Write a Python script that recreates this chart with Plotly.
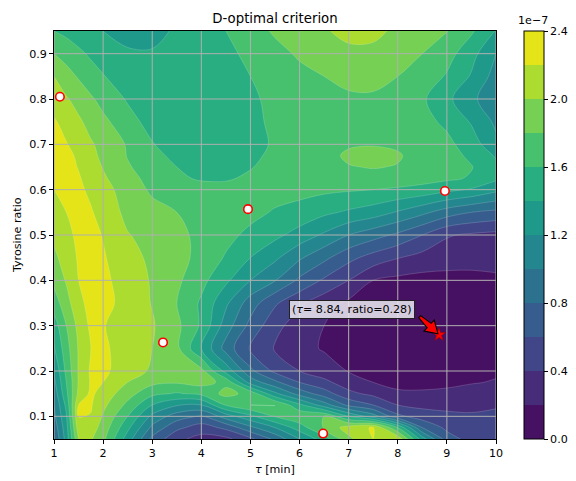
import numpy as np
import plotly.graph_objects as go

# Design grid: residence time tau [min] and tyrosine ratio
TAU = [1.0, 1.25, 1.5, 1.75, 2.0, 2.5, 3.0, 3.5, 4.0, 4.5, 5.0, 5.5, 6.0, 6.5, 7.0, 7.5, 8.0, 8.5, 9.0, 9.5, 10.0]
RATIO = [0.05, 0.075, 0.1, 0.125, 0.15, 0.175, 0.2, 0.25, 0.3, 0.35, 0.4, 0.45, 0.5,
         0.55, 0.6, 0.625, 0.65, 0.675, 0.7, 0.75, 0.8, 0.85, 0.9, 0.95]

# D-optimal criterion values (units of 1e-7), one row per ratio value
D_CRIT = [
    [0.80, 1.28, 2.00, 2.02, 1.85, 1.30, 0.75, 0.45, 0.33, 0.35, 0.55, 0.85, 1.20, 1.50, 1.95, 2.20, 2.15, 1.30, 0.70, 0.52, 0.48],
    [0.88, 1.32, 2.12, 2.10, 1.92, 1.45, 0.95, 0.65, 0.50, 0.65, 0.95, 1.20, 1.50, 1.82, 2.10, 2.22, 1.60, 0.80, 0.55, 0.48, 0.46],
    [0.95, 1.38, 2.21, 2.19, 1.98, 1.60, 1.15, 0.90, 0.78, 1.10, 1.35, 1.62, 1.76, 1.80, 1.40, 1.10, 0.65, 0.50, 0.45, 0.42, 0.44],
    [1.00, 1.45, 2.20, 2.22, 2.05, 1.75, 1.40, 1.22, 1.20, 1.62, 1.80, 1.81, 1.45, 1.10, 0.75, 0.60, 0.40, 0.35, 0.34, 0.36, 0.38],
    [1.08, 1.55, 2.05, 2.24, 2.12, 1.88, 1.65, 1.58, 1.65, 1.86, 1.74, 1.25, 0.92, 0.70, 0.45, 0.35, 0.23, 0.22, 0.23, 0.26, 0.30],
    [1.15, 1.60, 2.02, 2.22, 2.20, 2.00, 1.85, 1.82, 1.87, 1.75, 1.12, 0.85, 0.60, 0.45, 0.30, 0.20, 0.15, 0.16, 0.17, 0.19, 0.21],
    [1.22, 1.65, 2.02, 2.23, 2.24, 2.10, 1.97, 1.89, 1.86, 1.33, 0.85, 0.55, 0.40, 0.30, 0.19, 0.15, 0.13, 0.12, 0.13, 0.15, 0.18],
    [1.38, 1.72, 2.02, 2.20, 2.23, 2.12, 2.00, 1.85, 1.40, 0.92, 0.57, 0.38, 0.27, 0.18, 0.11, 0.07, 0.05, 0.05, 0.07, 0.09, 0.10],
    [1.50, 1.80, 2.06, 2.24, 2.21, 2.12, 2.02, 1.85, 1.57, 1.10, 0.74, 0.46, 0.30, 0.20, 0.12, 0.08, 0.05, 0.04, 0.05, 0.07, 0.08],
    [1.70, 1.92, 2.15, 2.26, 2.27, 2.12, 1.99, 1.80, 1.57, 1.24, 0.90, 0.63, 0.44, 0.28, 0.16, 0.10, 0.07, 0.06, 0.07, 0.09, 0.11],
    [1.85, 2.02, 2.20, 2.27, 2.24, 2.12, 1.98, 1.84, 1.66, 1.44, 1.20, 1.01, 0.76, 0.57, 0.40, 0.20, 0.15, 0.13, 0.14, 0.16, 0.18],
    [1.95, 2.10, 2.22, 2.27, 2.22, 2.07, 1.96, 1.87, 1.74, 1.58, 1.40, 1.24, 1.03, 0.85, 0.66, 0.52, 0.41, 0.33, 0.28, 0.25, 0.24],
    [2.05, 2.15, 2.24, 2.26, 2.19, 2.01, 1.94, 1.86, 1.74, 1.66, 1.55, 1.45, 1.32, 1.17, 1.00, 0.88, 0.76, 0.60, 0.42, 0.37, 0.34],
    [2.15, 2.20, 2.27, 2.22, 2.12, 1.95, 1.86, 1.80, 1.74, 1.70, 1.66, 1.58, 1.53, 1.44, 1.37, 1.30, 1.18, 1.05, 0.90, 0.80, 0.75],
    [2.20, 2.27, 2.24, 2.16, 2.08, 1.90, 1.77, 1.71, 1.67, 1.66, 1.67, 1.68, 1.66, 1.64, 1.62, 1.60, 1.57, 1.53, 1.45, 1.38, 1.25],
    [2.28, 2.26, 2.22, 2.12, 2.03, 1.86, 1.74, 1.63, 1.58, 1.58, 1.63, 1.68, 1.71, 1.72, 1.74, 1.74, 1.72, 1.68, 1.64, 1.58, 1.44],
    [2.31, 2.27, 2.19, 2.09, 1.99, 1.82, 1.70, 1.60, 1.53, 1.52, 1.59, 1.66, 1.72, 1.76, 1.79, 1.81, 1.79, 1.73, 1.68, 1.61, 1.45],
    [2.31, 2.25, 2.17, 2.05, 1.96, 1.79, 1.67, 1.54, 1.48, 1.48, 1.56, 1.64, 1.70, 1.74, 1.83, 1.85, 1.82, 1.72, 1.68, 1.56, 1.38],
    [2.30, 2.21, 2.13, 2.02, 1.95, 1.78, 1.61, 1.52, 1.48, 1.48, 1.52, 1.63, 1.70, 1.75, 1.78, 1.79, 1.77, 1.71, 1.65, 1.50, 1.25],
    [2.22, 2.14, 2.03, 1.94, 1.85, 1.67, 1.53, 1.48, 1.46, 1.47, 1.55, 1.64, 1.70, 1.73, 1.75, 1.75, 1.72, 1.66, 1.56, 1.38, 1.16],
    [2.12, 2.02, 1.93, 1.83, 1.73, 1.58, 1.50, 1.46, 1.45, 1.48, 1.56, 1.66, 1.72, 1.76, 1.77, 1.77, 1.76, 1.63, 1.45, 1.24, 1.08],
    [2.00, 1.88, 1.78, 1.68, 1.61, 1.52, 1.48, 1.48, 1.49, 1.52, 1.60, 1.67, 1.74, 1.80, 1.85, 1.86, 1.80, 1.72, 1.58, 1.38, 1.12],
    [1.80, 1.72, 1.64, 1.57, 1.50, 1.43, 1.42, 1.47, 1.52, 1.56, 1.64, 1.73, 1.83, 1.90, 1.95, 1.95, 1.90, 1.80, 1.68, 1.47, 1.20],
    [1.60, 1.55, 1.50, 1.46, 1.40, 1.32, 1.33, 1.43, 1.50, 1.60, 1.70, 1.83, 1.92, 1.98, 2.06, 2.05, 1.96, 1.88, 1.81, 1.63, 1.39],
]

# Experiments already in the design
EXP_TAU = [1.12, 3.22, 4.95, 6.48, 8.96]
EXP_RATIO = [0.805, 0.263, 0.557, 0.062, 0.597]

# Proposed optimum
OPT_TAU = 8.84
OPT_RATIO = 0.28

# Axis ticks
X_TICKS = [1, 2, 3, 4, 5, 6, 7, 8, 9, 10]
Y_TICKS = [0.1, 0.2, 0.3, 0.4, 0.5, 0.6, 0.7, 0.8, 0.9]
CBAR_TICKS = [0.0, 0.4, 0.8, 1.2, 1.6, 2.0, 2.4]

# Contour levels: 0 .. 2.4 in steps of 0.2 (x 1e-7)
LEVEL_STEP = 0.2
N_LEVELS = 12
BAND_COLORS = ['#471163', '#472c7a', '#404688', '#365d8d', '#2c728e', '#24868e',
               '#1f9a8a', '#28ae80', '#48c16e', '#75d054', '#acdc30', '#e4e419']

FONT = "DejaVu Sans"
FS = 11.1        # 10 pt text
FS_TITLE = 13.3  # 12 pt title

X_RANGE = [1, 10]
Y_RANGE = [0.05, 0.95]
PLOT_W, PLOT_H = 442, 408   # plot area in px

# work in level units so each band spans exactly one unit
z_lvl = np.array(D_CRIT) / LEVEL_STEP

# stepped colorscale: one flat colour per band
scale = []
for k, c in enumerate(BAND_COLORS):
    scale.append([k / N_LEVELS, c])
    scale.append([(k + 1) / N_LEVELS, c])

fig = go.Figure()

fig.add_trace(go.Contour(
    x=TAU, y=RATIO, z=z_lvl,
    zmin=0, zmax=N_LEVELS,
    autocontour=False,
    contours=dict(start=0, end=N_LEVELS, size=1, coloring="fill", showlines=False),
    colorscale=scale,
    line=dict(width=0, smoothing=1.0),
    hoverinfo="skip",
    colorbar=dict(
        x=(524 - 54) / PLOT_W, xanchor="left", xpad=0,
        y=0.5, yanchor="middle", len=1.0, lenmode="fraction", ypad=0,
        thickness=20,
        outlinewidth=1, outlinecolor="black",
        ticks="outside", ticklen=3.9, tickwidth=0.9, tickcolor="black",
        tickvals=[t / LEVEL_STEP for t in CBAR_TICKS],
        ticktext=[f"{t:.1f}" for t in CBAR_TICKS],
        tickfont=dict(family=FONT, size=FS, color="black"),
    ),
))

# faint seams between filled bands
fig.add_trace(go.Contour(
    x=TAU, y=RATIO, z=z_lvl,
    autocontour=False,
    contours=dict(start=0, end=N_LEVELS, size=1, coloring="none"),
    line=dict(color="rgba(255,255,255,0.28)", width=0.6, smoothing=1.0),
    showscale=False, hoverinfo="skip",
))

# grid drawn over the filled contours
gx, gy = [], []
for t in X_TICKS:
    gx += [t, t, None]
    gy += [Y_RANGE[0], Y_RANGE[1], None]
for r in Y_TICKS:
    gx += [X_RANGE[0], X_RANGE[1], None]
    gy += [r, r, None]
fig.add_trace(go.Scatter(x=gx, y=gy, mode="lines",
                         line=dict(color="#b0b0b0", width=1),
                         hoverinfo="skip", showlegend=False))

fig.add_trace(go.Scatter(
    x=EXP_TAU, y=EXP_RATIO, mode="markers",
    marker=dict(symbol="circle", size=8.5, color="white",
                line=dict(color="red", width=1.6)),
    showlegend=False, hoverinfo="skip",
))

fig.add_trace(go.Scatter(
    x=[OPT_TAU], y=[OPT_RATIO], mode="markers",
    marker=dict(symbol="star", size=10, color="red",
                line=dict(color="#8b0000", width=0.5)),
    showlegend=False, hoverinfo="skip",
))

# fancy arrow (red, black edge) pointing at the optimum, built in pixel units
px_per_x = PLOT_W / (X_RANGE[1] - X_RANGE[0])
px_per_y = PLOT_H / (Y_RANGE[1] - Y_RANGE[0])
ux, uy = 0.732, 0.681          # screen direction, tail -> tip
vx, vy = -uy, ux               # perpendicular
tip_back = 1.5                 # stop just short of the marker centre
outline = [(0, 1.4), (13, 3.0), (13, 7.5), (25, 0), (13, -7.5), (13, -3.0), (0, -1.4)]
path_pts = []
for a, c in outline:
    sx = (a - 25 - tip_back) * ux + c * vx
    sy = (a - 25 - tip_back) * uy + c * vy
    path_pts.append((OPT_TAU + sx / px_per_x, OPT_RATIO - sy / px_per_y))
path = "M " + " L ".join(f"{x:.5f},{y:.5f}" for x, y in path_pts) + " Z"
fig.add_shape(type="path", path=path, xref="x", yref="y",
              fillcolor="red", line=dict(color="black", width=1.1), layer="above")

label = f"(<i>τ</i>= {OPT_TAU:.2f}, ratio={OPT_RATIO:.2f})"

# label box up and to the left of the optimum
fig.add_annotation(
    x=OPT_TAU, y=OPT_RATIO, xref="x", yref="y", xshift=-87, yshift=25,
    text=label, showarrow=False,
    font=dict(family=FONT, size=FS, color="black"),
    bgcolor="rgba(232,230,238,0.88)", bordercolor="#222222", borderwidth=1, borderpad=2,
)

# axis titles and colorbar exponent
fig.add_annotation(x=0.5, y=-(469 - 439) / PLOT_H, xref="paper", yref="paper",
                   text="<i>τ</i> [min]", showarrow=False,
                   font=dict(family=FONT, size=FS, color="black"),
                   xanchor="center", yanchor="middle")
fig.add_annotation(x=-(54 - 17) / PLOT_W, y=0.5, xref="paper", yref="paper",
                   text="Tyrosine ratio", showarrow=False, textangle=-90,
                   font=dict(family=FONT, size=FS, color="black"),
                   xanchor="center", yanchor="middle")
fig.add_annotation(x=(533 - 54) / PLOT_W, y=1 + 2 / PLOT_H, xref="paper", yref="paper",
                   text="1e−7", showarrow=False,
                   font=dict(family=FONT, size=FS, color="black"),
                   xanchor="center", yanchor="bottom")

axis_common = dict(
    showline=True, mirror=True, linecolor="black", linewidth=1,
    ticks="outside", ticklen=3.9, tickwidth=0.9, tickcolor="black",
    showgrid=False, zeroline=False,
    tickfont=dict(family=FONT, size=FS, color="black"),
)

fig.update_layout(
    width=576, height=481,
    margin=dict(l=54, r=80, t=31, b=42, autoexpand=False),
    paper_bgcolor="white", plot_bgcolor="white",
    title=dict(text="D-optimal criterion", x=(54 + 496) / 2 / 576, xanchor="center",
               y=1 - 18 / 481, yanchor="middle",
               font=dict(family=FONT, size=FS_TITLE, color="black")),
    xaxis=dict(range=X_RANGE, tickvals=X_TICKS, ticktext=[str(t) for t in X_TICKS], **axis_common),
    yaxis=dict(range=Y_RANGE, tickvals=Y_TICKS, ticktext=[f"{t:.1f}" for t in Y_TICKS], **axis_common),
    showlegend=False,
    font=dict(family=FONT),
)

fig.write_html("out.html")
